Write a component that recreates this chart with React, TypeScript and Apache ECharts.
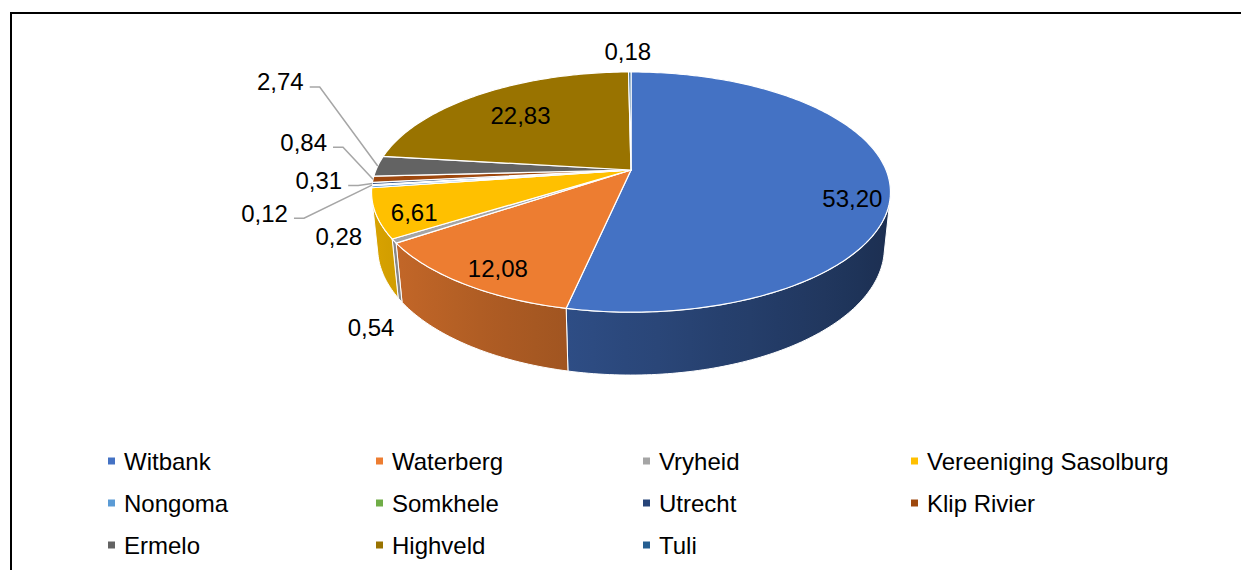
import { useEffect, useRef } from 'react';
import * as echarts from 'echarts';

// ---------------- data ----------------
const categories = [
  'Witbank', 'Waterberg', 'Vryheid', 'Vereeniging Sasolburg', 'Nongoma', 'Somkhele',
  'Utrecht', 'Klip Rivier', 'Ermelo', 'Highveld', 'Tuli',
];
const values = [53.2, 12.08, 0.54, 6.61, 0.28, 0.12, 0.31, 0.84, 2.74, 22.83, 0.18];
const colors = [
  '#4472C4', '#ED7D31', '#A5A5A5', '#FFC000', '#5B9BD5', '#70AD47',
  '#264478', '#9E480E', '#636363', '#997300', '#255E91',
];

// ---------------- label layout (styling) ----------------
// inside: placed on the slice's mid angle at a radius fraction; outside: offset from the rim anchor
type LabelLayout = { inside: boolean; dx: number; dy: number; leader?: boolean };
const labelLayout: LabelLayout[] = [
  { inside: true, dx: 10, dy: 18 },
  { inside: true, dx: 0, dy: 8 },
  { inside: false, dx: -23, dy: 86 },
  { inside: true, dx: -10, dy: 7 },
  { inside: false, dx: -33, dy: 50 },
  { inside: false, dx: -84, dy: 28, leader: true },
  { inside: false, dx: -30, dy: -3, leader: true },
  { inside: false, dx: -46, dy: -37, leader: true },
  { inside: false, dx: -74, dy: -84, leader: true },
  { inside: true, dx: 15, dy: 9 },
  { inside: false, dx: -2, dy: -20 },
];

// ---------------- 3D view (layout) ----------------
const VIEW = { cx: 631, cy: 170, focal: 1237, dist: 4.85, tilt: 27.07, thickness: 0.247 };
const DEG = Math.PI / 180;
const SA = Math.sin(VIEW.tilt * DEG);
const CA = Math.cos(VIEW.tilt * DEG);
const VIS_MIN = Math.acos(-1 / (VIEW.dist * CA)) / DEG;
const VIS_MAX = 360 - VIS_MIN;
const FONT = 'Liberation Sans, Arial, sans-serif';

function project(thetaDeg: number, r: number, y: number): number[] {
  const t = thetaDeg * DEG;
  const x = r * Math.sin(t);
  const z = r * Math.cos(t);
  const yc = y * CA + z * SA;
  const zc = VIEW.dist + z * CA - y * SA;
  return [VIEW.cx + (VIEW.focal * x) / zc, VIEW.cy - (VIEW.focal * yc) / zc];
}

function shade(hex: string, f: number): string {
  const n = parseInt(hex.slice(1), 16);
  const r = Math.round(((n >> 16) & 255) * f);
  const g = Math.round(((n >> 8) & 255) * f);
  const b = Math.round((n & 255) * f);
  return `rgb(${r},${g},${b})`;
}
const lightAt = (thetaDeg: number) => 0.63 + 0.23 * -Math.sin(thetaDeg * DEG);

const total = values.reduce((a, b) => a + b, 0);
const starts: number[] = [];
{
  let acc = 0;
  values.forEach((v) => {
    starts.push(acc);
    acc += v;
  });
}
const fmt = (v: number) => v.toFixed(2).replace('.', ',');

function renderItem(params: any, api: any) {
  const i = params.dataIndex;
  const v = api.value(0) as number;
  const a0 = (starts[i] / total) * 360;
  const a1 = ((starts[i] + v) / total) * 360;
  const color = colors[i];
  const children: any[] = [];

  // side wall (visible front part)
  const s0 = Math.max(a0, VIS_MIN);
  const s1 = Math.min(a1, VIS_MAX);
  if (s1 > s0) {
    const n = Math.max(2, Math.ceil(s1 - s0) + 1);
    const top: number[][] = [];
    const bot: number[][] = [];
    const samples: { x: number; c: string }[] = [];
    for (let k = 0; k < n; k++) {
      const th = s0 + ((s1 - s0) * k) / (n - 1);
      const p = project(th, 1, 0);
      top.push(p);
      bot.push(project(th, 1, -VIEW.thickness));
      if (k % 6 === 0 || k === n - 1) samples.push({ x: p[0], c: shade(color, lightAt(th)) });
    }
    const xs = samples.map((s) => s.x);
    const xmin = Math.min(...xs);
    const xmax = Math.max(...xs);
    let fill: any = samples[0].c;
    if (xmax - xmin > 1) {
      const stops = samples
        .map((s) => ({ offset: (s.x - xmin) / (xmax - xmin), color: s.c }))
        .sort((p, q) => p.offset - q.offset);
      fill = new echarts.graphic.LinearGradient(xmin, 0, xmax, 0, stops, true);
    }
    children.push({
      type: 'polygon',
      z2: 1,
      shape: { points: top.concat(bot.reverse()) },
      style: { fill, stroke: '#ffffff', lineWidth: 1 },
    });
  }

  // top face
  const m = Math.max(2, Math.ceil(a1 - a0) + 1);
  const face: number[][] = [project(0, 0, 0)];
  for (let k = 0; k < m; k++) face.push(project(a0 + ((a1 - a0) * k) / (m - 1), 1, 0));
  children.push({
    type: 'polygon',
    z2: 5,
    shape: { points: face },
    style: { fill: color, stroke: '#ffffff', lineWidth: 1.2, lineJoin: 'round' },
  });

  // label
  const L = labelLayout[i];
  const mid = (a0 + a1) / 2;
  if (L.inside) {
    const p = project(mid, 0.82, 0);
    children.push({
      type: 'text',
      z2: 10,
      style: {
        text: fmt(v), x: p[0] + L.dx, y: p[1] + L.dy, fill: '#000',
        fontSize: 24, fontFamily: FONT, align: 'center', verticalAlign: 'middle',
      },
    });
  } else {
    const anchor = project(mid, 1, 0);
    const tx = anchor[0] + L.dx;
    const ty = anchor[1] + L.dy;
    children.push({
      type: 'text',
      z2: 10,
      style: {
        text: fmt(v), x: tx, y: ty, fill: '#000',
        fontSize: 24, fontFamily: FONT, align: L.leader ? 'right' : 'center', verticalAlign: 'middle',
      },
    });
    if (L.leader) {
      children.push({
        type: 'polyline',
        z2: 8,
        shape: { points: [[tx + 6, ty + 5], [tx + 16, ty + 5], anchor] },
        style: { fill: 'none', stroke: '#A6A6A6', lineWidth: 1.5 },
      });
    }
  }
  return { type: 'group', children };
}

// legend grid (layout)
const legendCols = [108, 376, 643, 911];
const legendRows = [461, 503, 545];

export default function App() {
  const ref = useRef<HTMLDivElement>(null);
  useEffect(() => {
    document.body.style.margin = '0';
    const chart = echarts.init(ref.current!, null, { renderer: 'svg' });
    const legends = categories.map((name, i) => ({
      data: [name],
      left: legendCols[i % 4],
      top: legendRows[Math.floor(i / 4)] - 12,
      padding: 0,
      icon: 'rect',
      itemWidth: 7,
      itemHeight: 7,
      selectedMode: false,
      textStyle: { fontSize: 24, fontFamily: FONT, color: '#000', lineHeight: 24, padding: [0, 0, 0, 4] },
    }));
    chart.setOption({
      animation: false,
      backgroundColor: '#ffffff',
      color: colors,
      legend: legends,
      graphic: [
        {
          type: 'rect',
          silent: true,
          shape: { x: 11, y: 13, width: 1240, height: 700 },
          style: { fill: 'none', stroke: '#000', lineWidth: 2 },
        },
      ],
      series: [
        {
          type: 'pie',
          radius: 0,
          center: [-100, -100],
          silent: true,
          label: { show: false },
          labelLine: { show: false },
          data: categories.map((name, i) => ({ name, value: values[i], itemStyle: { color: colors[i] } })),
        },
        {
          type: 'custom',
          coordinateSystem: 'none',
          renderItem,
          silent: true,
          data: categories.map((name, i) => ({ name, value: [values[i]] })),
        },
      ],
    });
    return () => chart.dispose();
  }, []);
  return <div ref={ref} style={{ width: 1241, height: 570 }} />;
}
